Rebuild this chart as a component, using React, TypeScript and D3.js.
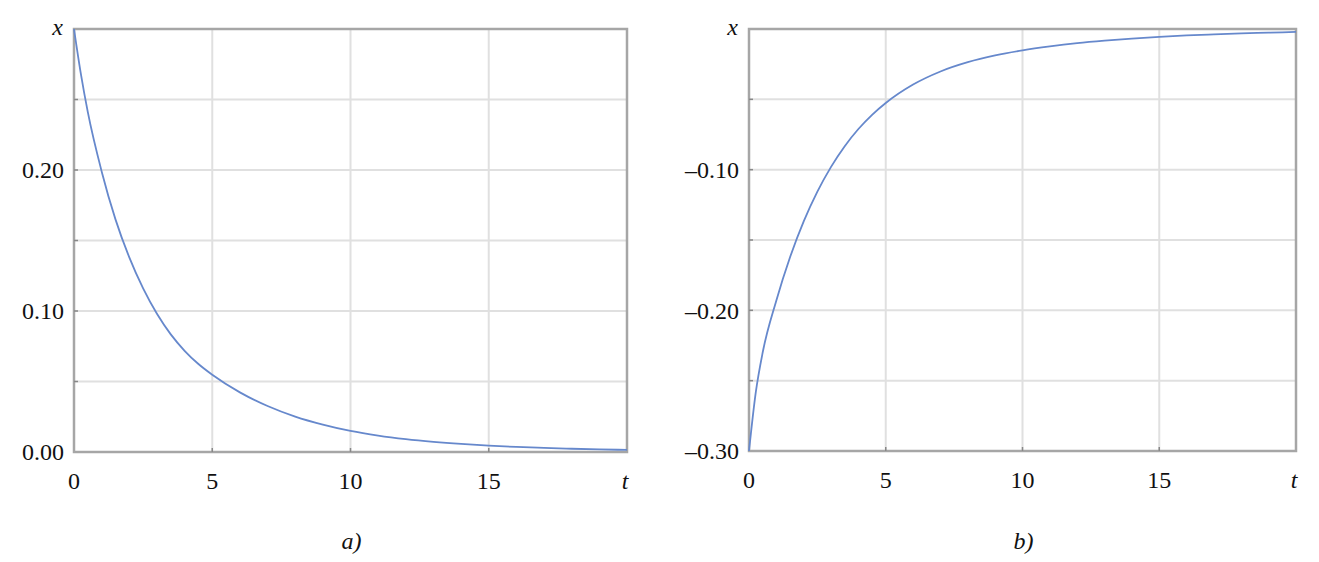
import React from "react";
import * as d3 from "d3";

// ---- data ----
const tValues = [0, 0.25, 0.5, 1, 1.5, 2, 2.5, 3, 3.5, 4, 4.5, 5, 6, 7, 8, 9, 10, 11, 12, 13, 14, 15, 16, 17, 18, 19, 20];
const xDecay = [0.300, 0.268, 0.241, 0.199, 0.165, 0.138, 0.116, 0.098, 0.0834, 0.0718, 0.0624, 0.0548, 0.0423, 0.0326, 0.0251, 0.0194, 0.0149, 0.0116, 0.0091, 0.0072, 0.0057, 0.0045, 0.0036, 0.0029, 0.0023, 0.0018, 0.0015];
const xRise = [-0.300, -0.258, -0.230, -0.193, -0.1623, -0.1368, -0.1156, -0.098, -0.0833, -0.0711, -0.061, -0.0526, -0.0395, -0.0302, -0.0236, -0.0188, -0.0152, -0.0124, -0.0101, -0.0083, -0.0068, -0.0056, -0.0046, -0.0038, -0.0031, -0.0026, -0.0021];

const xTickLabels = [0, 5, 10, 15];
const xGrid = [5, 10, 15];
const leftYTicks = [0, 0.1, 0.2];
const leftYGrid = [0.05, 0.1, 0.15, 0.2, 0.25];
const rightYTicks = [-0.3, -0.2, -0.1];
const rightYGrid = [-0.25, -0.2, -0.15, -0.1, -0.05];
const captions = ["a)", "b)"];

const FONT = "Liberation Serif, Times New Roman, serif";
const FS = 24;

type PanelProps = {
  x0: number; x1: number; y0: number; y1: number;
  domainY: [number, number];
  values: number[];
  yTicks: number[];
  yGrid: number[];
  caption: string;
  fmt: (v: number) => string;
};

function Panel({ x0, x1, y0, y1, domainY, values, yTicks, yGrid, caption, fmt }: PanelProps) {
  const xs = d3.scaleLinear().domain([0, 20]).range([x0, x1]);
  const ys = d3.scaleLinear().domain(domainY).range([y1, y0]);
  const line = d3.line<number>()
    .x((_, i) => xs(tValues[i]))
    .y((d) => ys(d))
    .curve(d3.curveMonotoneX);
  const gridColor = "#e0e0e0";
  const frameColor = "#a6a6a6";
  return (
    <g>
      {xGrid.map((v) => (
        <line key={"gx" + v} x1={xs(v)} x2={xs(v)} y1={y0} y2={y1} stroke={gridColor} strokeWidth={2} />
      ))}
      {yGrid.map((v) => (
        <line key={"gy" + v} x1={x0} x2={x1} y1={ys(v)} y2={ys(v)} stroke={gridColor} strokeWidth={2} />
      ))}
      <rect x={x0} y={y0} width={x1 - x0} height={y1 - y0} fill="none" stroke={frameColor} strokeWidth={2.5} />
      {yGrid.map((v) => (
        <line key={"ty" + v} x1={x0} x2={x0 + 4} y1={ys(v)} y2={ys(v)} stroke="#888" strokeWidth={1.5} />
      ))}
      {xGrid.map((v) => (
        <line key={"tx" + v} x1={xs(v)} x2={xs(v)} y1={y1} y2={y1 - 4} stroke="#888" strokeWidth={1.5} />
      ))}
      <path d={line(values) || ""} fill="none" stroke="#6688cc" strokeWidth={1.8} />
      {yTicks.map((v) => (
        <text key={"ly" + v} x={x0 - 10} y={ys(v)} dy="0.35em" textAnchor="end" fontFamily={FONT} fontSize={FS} fill="#111">
          {fmt(v)}
        </text>
      ))}
      {xTickLabels.map((v) => (
        <text key={"lx" + v} x={xs(v)} y={y1 + 37} textAnchor="middle" fontFamily={FONT} fontSize={FS} fill="#111">
          {v}
        </text>
      ))}
      <text x={xs(20) - 2} y={y1 + 37} textAnchor="middle" fontFamily={FONT} fontSize={FS} fontStyle="italic" fill="#111">t</text>
      <text x={x0 - 11} y={y0 + 6} textAnchor="end" fontFamily={FONT} fontSize={FS} fontStyle="italic" fill="#111">x</text>
      <text x={(x0 + x1) / 2 + 1} y={549} textAnchor="middle" fontFamily={FONT} fontSize={FS} fontStyle="italic" fill="#111">{caption}</text>
    </g>
  );
}

export default function App() {
  const fmt = (v: number) => (v < 0 ? "\u2013" + Math.abs(v).toFixed(2) : v.toFixed(2));
  return (
    <svg width={1319} height={562} style={{ position: "absolute", left: 0, top: 0, background: "#fff" }}>
      <Panel x0={74} x1={627} y0={29} y1={452} domainY={[0, 0.3]} values={xDecay}
        yTicks={leftYTicks} yGrid={leftYGrid} caption={captions[0]} fmt={fmt} />
      <Panel x0={749} x1={1296} y0={29} y1={451} domainY={[-0.3, 0]} values={xRise}
        yTicks={rightYTicks} yGrid={rightYGrid} caption={captions[1]} fmt={fmt} />
    </svg>
  );
}
